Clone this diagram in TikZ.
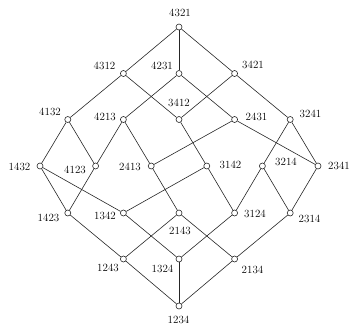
\documentclass[tikz,border=0pt]{standalone}
\begin{document}
\begin{tikzpicture}[x=1pt,y=1pt,
  v/.style={circle,draw=black!85,fill=white,inner sep=0pt,minimum size=6pt,line width=0.6pt},
  lab/.style={inner sep=0pt,font=\fontsize{11}{13}\selectfont},
  e/.style={draw=black!85,line width=0.6pt}]
\useasboundingbox (0,0) rectangle (350,325);
% vertices (y = 325 - pixel row)
\node[v] (n4321) at (179,298) {};
\node[v] (n4312) at (123.4,251.5) {};
\node[v] (n4231) at (179,251.5) {};
\node[v] (n3421) at (234.6,251.5) {};
\node[v] (n4132) at (67.8,205.5) {};
\node[v] (n4213) at (123.4,205.5) {};
\node[v] (n3412) at (179,205.5) {};
\node[v] (n2431) at (234.6,205.5) {};
\node[v] (n3241) at (290.2,205.5) {};
\node[v] (n1432) at (40,159) {};
\node[v] (n4123) at (95.6,159) {};
\node[v] (n2413) at (151.2,159) {};
\node[v] (n3142) at (206.8,159) {};
\node[v] (n3214) at (262.4,159) {};
\node[v] (n2341) at (318,159) {};
\node[v] (n1423) at (67.8,112) {};
\node[v] (n1342) at (123.4,112) {};
\node[v] (n2143) at (179,112) {};
\node[v] (n3124) at (234.6,112) {};
\node[v] (n2314) at (290.2,112) {};
\node[v] (n1243) at (123.4,66) {};
\node[v] (n1324) at (179,66) {};
\node[v] (n2134) at (234.6,66) {};
\node[v] (n1234) at (179,19) {};
% edges
\begin{scope}[on background layer/.try]
\end{scope}
\foreach \a/\b in {4321/4312,4321/4231,4321/3421,
  4312/4132,4312/3412,4231/4213,4231/2431,3421/3412,3421/3241,
  4132/1432,4132/4123,4213/4123,4213/2413,3412/3142,2431/2413,2431/2341,3241/3214,3241/2341,
  1432/1423,1432/1342,4123/1423,2413/2143,3142/1342,3142/3124,3214/3124,3214/2314,2341/2314,
  1423/1243,1342/1324,2143/1243,2143/2134,3124/1324,2314/2134,
  1243/1234,1324/1234,2134/1234}
  \draw[e] (n\a) -- (n\b);
% labels
\node[lab] (t4321) at (180,312) {4321};
\node[lab] (t4312) at (104.5,259) {4312};
\node[lab] (t4231) at (162,259) {4231};
\node[lab] (t3421) at (253,260) {3421};
\node[lab] (t4132) at (50,213) {4132};
\node[lab] (t4213) at (105,208) {4213};
\node[lab] (t3412) at (179,222) {3412};
\node[lab] (t2431) at (256.5,208.5) {2431};
\node[lab] (t3241) at (310.5,211) {3241};
\node[lab] (t1432) at (19.5,158) {1432};
\node[lab] (t4123) at (75,155.5) {4123};
\node[lab] (t2413) at (130,158) {2413};
\node[lab] (t3142) at (230.5,160) {3142};
\node[lab] (t3214) at (286,163) {3214};
\node[lab] (t2341) at (339,159) {2341};
\node[lab] (t1423) at (48.5,107.5) {1423};
\node[lab] (t1342) at (105,109) {1342};
\node[lab] (t2143) at (180,94) {2143};
\node[lab] (t3124) at (255,111) {3124};
\node[lab] (t2314) at (309.5,106) {2314};
\node[lab] (t1243) at (108,57) {1243};
\node[lab] (t1324) at (162.5,56.5) {1324};
\node[lab] (t2134) at (252.5,55.5) {2134};
\node[lab] (t1234) at (178.5,5) {1234};
\end{tikzpicture}
\end{document}
